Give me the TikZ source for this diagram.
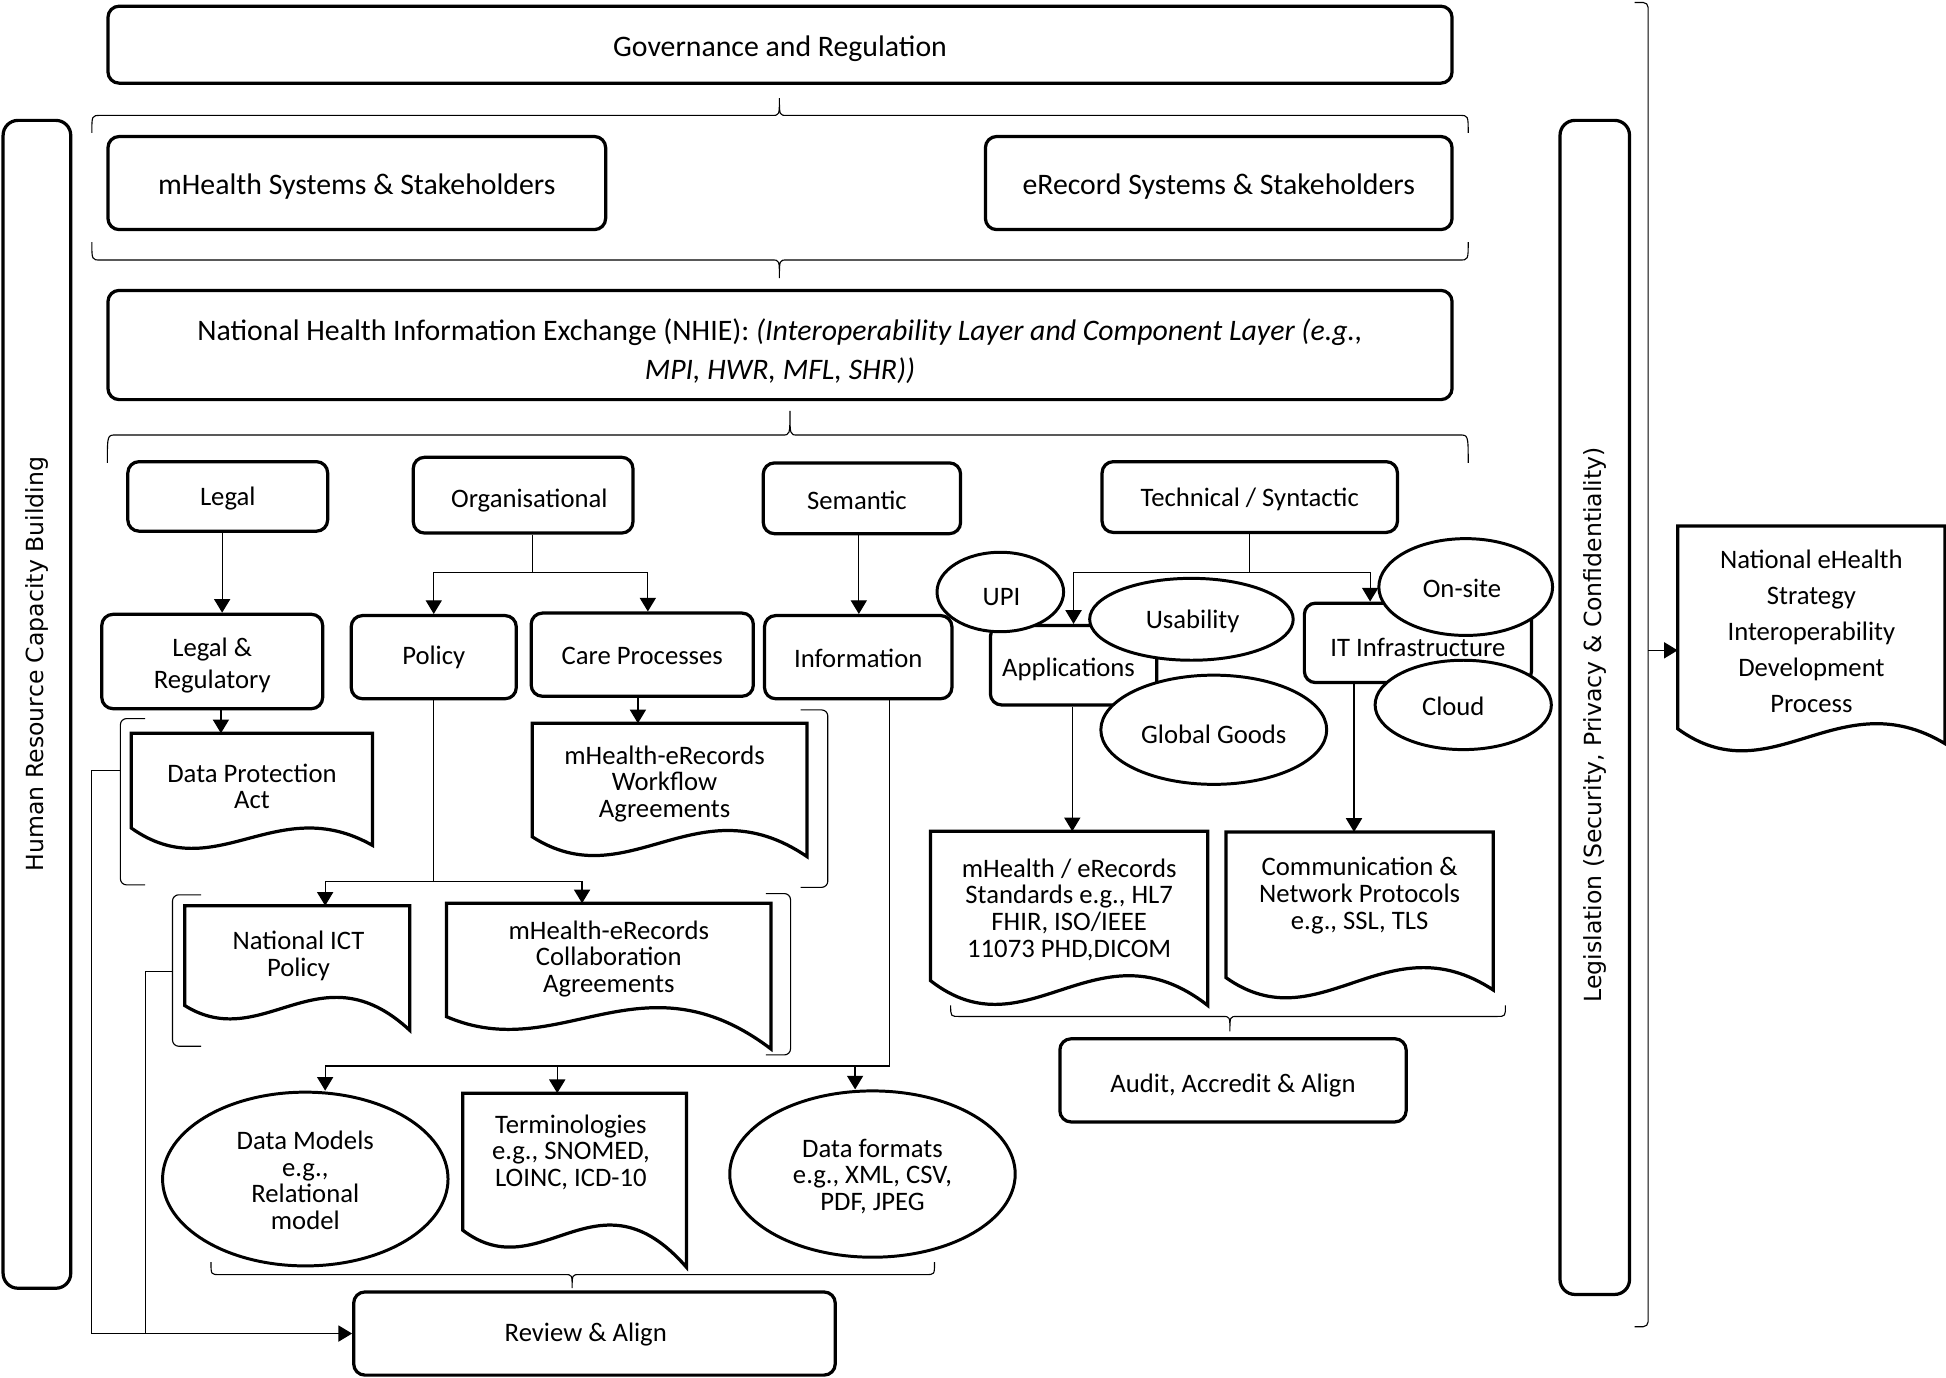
\documentclass[tikz,border=0pt]{standalone}
\usepackage{fontspec}
\setmainfont{Carlito}
\newfontfamily\vfont{DejaVu Sans}
\usetikzlibrary{arrows.meta,calc,shapes.geometric}

\tikzset{
 rbox/.style={draw, line width=2.6pt, rounded corners=9pt, fill=white, inner sep=0pt},
 ell/.style={draw, ellipse, line width=2.4pt, fill=white, inner sep=0pt},
 docbox/.style={inner sep=0pt},
 labs/.style={align=center, inner sep=0pt, font=\fontsize{21.5}{21.5}\selectfont},
 blabs/.style={align=center, inner sep=0pt, font=\fontsize{24}{32}\selectfont},
 tx/.style n args={3}{label={[labs,xshift=#1pt,yshift=#2pt]center:#3}},
 btx/.style n args={3}{label={[blabs,xshift=#1pt,yshift=#2pt]center:#3}},
 docline/.style={line width=2.6pt, line join=miter},
 conn/.style={line width=1pt},
 arr/.style={conn, -{Triangle[length=11pt,width=13pt]}},
 brc/.style={line width=0.9pt},
 vbar/.style={draw, line width=2.6pt, rounded corners=12pt, inner sep=0pt, font=\vfont\fontsize{19}{19}\selectfont},
}

% document-shape wave: node name, trough depth, crest offset, right-end drop
\newcommand\docwave[4]{%
  \pgfmathsetmacro\dA{#2-0.027*#4}%
  \pgfmathsetmacro\dB{#3-0.4219*#4}%
  \pgfmathsetmacro\dCtwo{2.7655*\dB-0.8816*\dA}%
  \pgfmathsetmacro\dCone{2.6455*\dA-1.1853*\dB}%
  \draw[docline] let \p1=(#1.north west), \p2=(#1.south east), \n1={\x2-\x1} in
    (\x1,\y2) -- (\x1,\y1) -- (\x2,\y1) -- (\x2,{\y2-#4})
    .. controls ({\x1+0.6*\n1},{\y2-\dCtwo}) and ({\x1+0.35*\n1},{\y2-\dCone}) .. (\x1,\y2) -- cycle;
}
% horizontal brace: x1, x2, yline, yend, tipx, ytip
\newcommand\hbr[6]{%
  \draw[brc] (#1,#4) .. controls (#1,#3) .. ({#1+7},#3) -- ({#5-6},#3)
    .. controls (#5,#3) .. (#5,#6) .. controls (#5,#3) .. ({#5+6},#3)
    -- ({#2-7},#3) .. controls (#2,#3) .. (#2,#4);
}

\begin{document}
\begin{tikzpicture}[x=1pt,y=-1pt]
\useasboundingbox (0,0) rectangle (1568,1110);

% ---- top level ----
\node[rbox, minimum width=1083pt, minimum height=62pt, btx={0}{-3}{Governance and Regulation}] (gov) at (628.5,36) {};
\node[rbox, minimum width=401pt, minimum height=75pt, btx={0}{-3}{mHealth Systems \& Stakeholders}] (msys) at (287.5,147.5) {};
\node[rbox, minimum width=376pt, minimum height=75pt, btx={0}{-3}{eRecord Systems \& Stakeholders}] (esys) at (982,147.5) {};
\node[rbox, minimum width=1083pt, minimum height=88pt, btx={0}{-5}{National Health Information Exchange (NHIE): \textit{(Interoperability Layer and Component Layer (e.g.,}\\\textit{MPI, HWR, MFL, SHR))}}] (nhie) at (628.5,278) {};

\hbr{74}{1183}{93}{107}{628}{79}
\hbr{74}{1183}{209.5}{195}{628}{224}
\hbr{86.5}{1183}{350.5}{373}{636.5}{331}

% ---- side bars ----
\node[vbar, rotate=90, minimum width=941pt, minimum height=54.5pt] (hr) at (29.75,567.5) {\hspace*{65pt}Human Resource Capacity Building};
\node[vbar, rotate=90, minimum width=946pt, minimum height=56pt] (legis) at (1285,570) {Legislation (Security, Privacy \& Confidentiality)\hspace*{28pt}};
\draw[brc, rounded corners=4pt] (1317,2) -- (1328,2) -- (1328,1069) -- (1317,1069);

% ---- dimension boxes ----
\node[rbox, minimum width=161pt, minimum height=56pt, tx={0}{-2}{Legal}] (legal) at (183.5,400) {};
\node[rbox, minimum width=177pt, minimum height=61pt, tx={5}{-4}{Organisational}] (org) at (421.5,399) {};
\node[rbox, minimum width=159pt, minimum height=57pt, tx={-4}{-2}{Semantic}] (sem) at (694.5,401.5) {};
\node[rbox, minimum width=238pt, minimum height=57pt, tx={0}{-2}{Technical / Syntactic}] (tech) at (1007,400.5) {};

\node[rbox, minimum width=178pt, minimum height=76pt, tx={0}{-3}{Legal \&\\[4.5pt]Regulatory}] (legreg) at (171,533) {};
\node[rbox, minimum width=133pt, minimum height=67pt, tx={0}{0}{Policy}] (policy) at (349.5,529.5) {};
\node[rbox, minimum width=179pt, minimum height=67pt, tx={0}{-1}{Care Processes}] (care) at (517.5,527.5) {};
\node[rbox, minimum width=151pt, minimum height=67pt, tx={0}{-1}{Information}] (info) at (691.5,529.5) {};
\node[rbox, minimum width=134pt, minimum height=64pt, tx={-4}{-3}{Applications}] (apps) at (865,536) {};
\node[rbox, minimum width=183pt, minimum height=64pt, tx={0}{-4}{IT Infrastructure}] (itinf) at (1142.5,518) {};

% ---- documents ----
\node[docbox, minimum width=194pt, minimum height=76pt, tx={0}{-4.5}{Data Protection\\Act}] (dpa) at (203,629) {};
\docwave{dpa}{16}{0}{14}
\node[docbox, minimum width=221pt, minimum height=91pt, tx={-4}{-3}{mHealth-eRecords\\Workflow\\Agreements}] (wfa) at (539.5,628.5) {};
\docwave{wfa}{14}{-5}{16}
\node[docbox, minimum width=181pt, minimum height=80pt, tx={1}{0}{National ICT\\Policy}] (ict) at (239.5,770) {};
\docwave{ict}{9}{-6}{20}
\node[docbox, minimum width=261pt, minimum height=91pt, tx={0}{1}{mHealth-eRecords\\Collaboration\\Agreements}] (col) at (490.5,773.5) {};
\docwave{col}{8}{-6}{26}
\node[docbox, minimum width=223pt, minimum height=120pt, tx={0}{-3}{mHealth / eRecords\\Standards e.g., HL7\\FHIR, ISO/IEEE\\11073 PHD,DICOM}] (std) at (861.5,730) {};
\docwave{std}{18}{-4}{20}
\node[docbox, minimum width=215pt, minimum height=117pt, tx={0}{7.5}{Communication \&\\Network Protocols\\e.g., SSL, TLS}] (com) at (1095.5,729) {};
\docwave{com}{15}{-8}{10}
\node[docbox, minimum width=180pt, minimum height=110pt, tx={-3}{7.5}{Terminologies\\e.g., SNOMED,\\LOINC, ICD-10}] (ter) at (463,936) {};
\docwave{ter}{12}{-3}{30}
\node[docbox, minimum width=215pt, minimum height=163pt, label={[labs,font=\fontsize{21.5}{29}\selectfont,yshift=-3.5pt]center:National eHealth\\Strategy\\Interoperability\\Development\\Process}] (neh) at (1459.5,505.5) {};
\docwave{neh}{17}{-4}{12}

% ---- brackets ----
\draw[brc, rounded corners=5pt] (117,579) -- (97,579) -- (97,713) -- (117,713);
\draw[brc, rounded corners=5pt] (645,572) -- (667,572) -- (667,715) -- (645,715);
\draw[brc, rounded corners=5pt] (162,721) -- (139,721) -- (139,843) -- (162,843);
\draw[brc, rounded corners=5pt] (617,720) -- (637,720) -- (637,850) -- (617,850);
\hbr{766}{1213}{819}{810}{991}{831}
\hbr{170}{753}{1027}{1017}{461}{1038}

% ---- bottom boxes ----
\node[ell, minimum width=230pt, minimum height=140pt, tx={0}{-1}{Data Models\\e.g.,\\Relational\\model}] (dm) at (246,950) {};
\node[ell, minimum width=230pt, minimum height=134pt, tx={0}{-2}{Data formats\\e.g., XML, CSV,\\PDF, JPEG}] (df) at (703,946) {};
\node[rbox, minimum width=279pt, minimum height=67pt, tx={0}{-4}{Audit, Accredit \& Align}] (audit) at (993.5,870.5) {};
\node[rbox, minimum width=388pt, minimum height=67pt, tx={-7}{-1}{Review \& Align}] (review) at (479,1074.5) {};

% ---- connectors ----
\draw[arr] ([xshift=-4.5pt]legal.south) -- ([xshift=-4.5pt]legal.south |- legreg.north);
\draw[arr] ([xshift=7pt]legreg.south) -- ([xshift=7pt]legreg.south |- dpa.north);
\coordinate (orgj) at (429,461);
\draw[conn] ([xshift=7.5pt]org.south) -- (orgj);
\draw[arr] (orgj) -| (policy.north);
\draw[arr] (orgj) -| ([xshift=4.5pt]care.north);
\draw[arr] ([xshift=-3.5pt]care.south) -- ([xshift=-3.5pt]care.south |- wfa.north);
\draw[arr] ([xshift=-2.5pt]sem.south) -- ([xshift=-2.5pt]sem.south |- info.north);
\coordinate (polj) at (349.5,710);
\draw[conn] (policy.south) -- (polj);
\draw[arr] (polj) -| ([xshift=22.5pt]ict.north);
\draw[arr] (polj) -| ([xshift=-21.5pt]col.north);
\coordinate (infj) at (717,859);
\draw[conn] ([xshift=25.5pt]info.south) -- (infj);
\draw[arr] (infj) -| ([xshift=16pt]dm.north);
\draw[arr] (infj) -| ([xshift=-14pt]ter.north);
\draw[arr] (infj) -| ([xshift=-14pt]df.north);
\coordinate (techj) at (1007,461);
\draw[conn] (tech.south) -- (techj);
\draw[arr] (techj) -| (apps.north);
\draw[arr] (techj) -| ([xshift=-38.5pt]itinf.north);
\draw[arr] ([xshift=-1pt]apps.south) -- ([xshift=-1pt]apps.south |- std.north);
\draw[arr] ([xshift=-51.5pt]itinf.south) -- ([xshift=-51.5pt]itinf.south |- com.north);
\coordinate (b1) at (97,621);
\coordinate (c1) at (74,621);
\coordinate (b2) at (139,783);
\coordinate (j2) at (117,1074.5);
\draw[arr] (b1) -- (c1) |- (review.west);
\draw[conn] (b2) -| (j2);
\coordinate (bb) at (1328,524);
\draw[arr] (bb) -- (bb -| neh.west);

% ---- technical ellipses (on top) ----
\node[ell, minimum width=102pt, minimum height=64pt, tx={1}{-4}{UPI}] (upi) at (806,477) {};
\node[ell, minimum width=164pt, minimum height=66pt, tx={1}{-2}{Usability}] (usab) at (960,499) {};
\node[ell, minimum width=182pt, minimum height=88pt, tx={0}{-4}{Global Goods}] (gg) at (978,588) {};
\node[ell, minimum width=140pt, minimum height=78pt, tx={-3}{-1}{On-site}] (onsite) at (1181,473) {};
\node[ell, minimum width=142pt, minimum height=72pt, tx={-8}{-1}{Cloud}] (cloud) at (1179,568) {};
\end{tikzpicture}
\end{document}
